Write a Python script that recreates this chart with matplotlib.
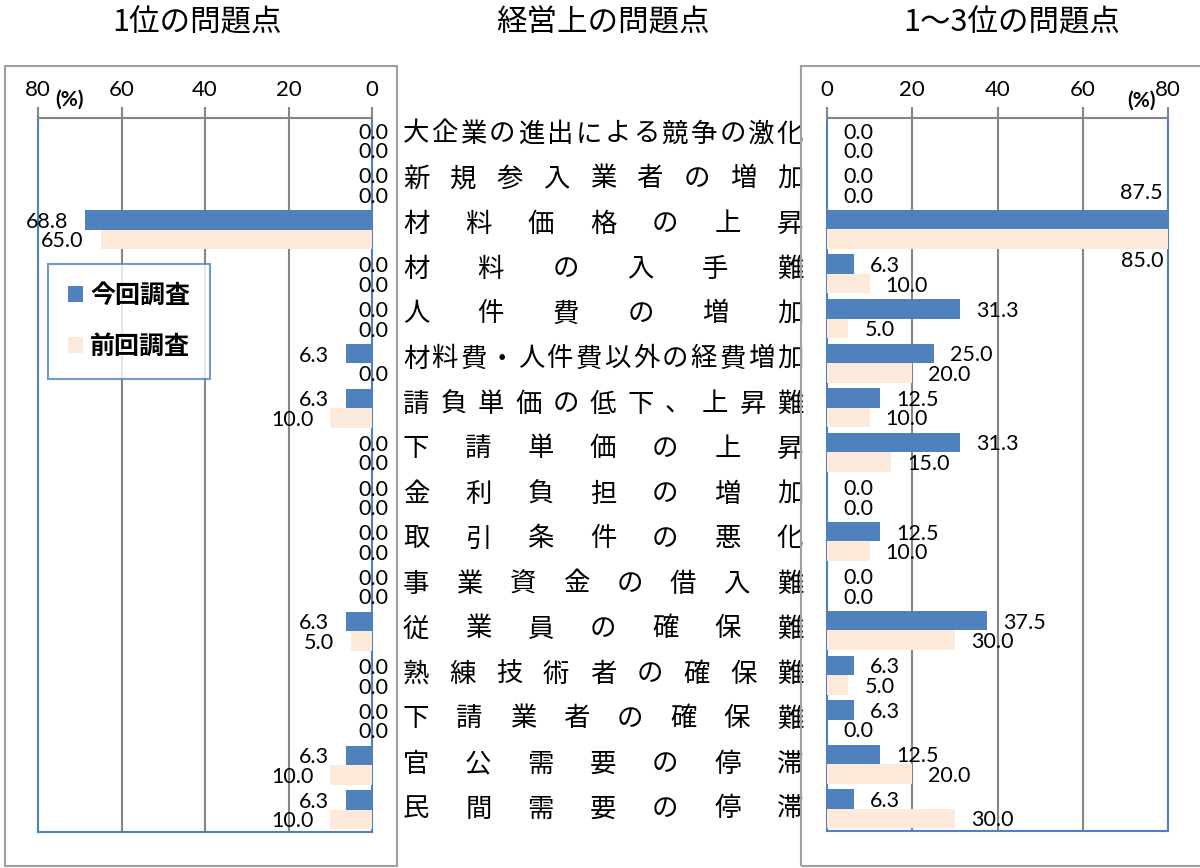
import numpy as np
import matplotlib
matplotlib.use('Agg')
import matplotlib.pyplot as plt
from matplotlib.patches import Rectangle

plt.rcParams['font.family'] = ['Lato', 'Noto Sans CJK JP', 'DejaVu Sans']

# --- データ ---
categories = [
    '大企業の進出による競争の激化', '新規参入業者の増加', '材料価格の上昇', '材料の入手難',
    '人件費の増加', '材料費・人件費以外の経費増加', '請負単価の低下、上昇難', '下請単価の上昇',
    '金利負担の増加', '取引条件の悪化', '事業資金の借入難', '従業員の確保難',
    '熟練技術者の確保難', '下請業者の確保難', '官公需要の停滞', '民間需要の停滞',
]
first_now = [0.0, 0.0, 68.8, 0.0, 0.0, 6.3, 6.3, 0.0, 0.0, 0.0, 0.0, 6.3, 0.0, 0.0, 6.3, 6.3]
first_prev = [0.0, 0.0, 65.0, 0.0, 0.0, 0.0, 10.0, 0.0, 0.0, 0.0, 0.0, 5.0, 0.0, 0.0, 10.0, 10.0]
top3_now = [0.0, 0.0, 87.5, 6.3, 31.3, 25.0, 12.5, 31.3, 0.0, 12.5, 0.0, 37.5, 6.3, 6.3, 12.5, 6.3]
top3_prev = [0.0, 0.0, 85.0, 10.0, 5.0, 20.0, 10.0, 15.0, 0.0, 10.0, 0.0, 30.0, 5.0, 0.0, 20.0, 30.0]
series_names = ['今回調査', '前回調査']
x_ticks = [0, 20, 40, 60, 80]
titles = ['1位の問題点', '経営上の問題点', '1～3位の問題点']

W, H = 1200, 868
BLUE = '#4f81bd'
PEACH = '#fde9d9'
GRID = '#868686'
BOX = '#a0a0a0'
JP = ['Noto Sans CJK JP', 'DejaVu Sans']
LABEL_FS = 15.5


def fx(px):
    return px / W


def fy(py):
    return 1 - py / H


fig = plt.figure(figsize=(W / 100, H / 100), dpi=100)

y = np.arange(len(categories))
bar_h = 0.437
off = 0.2185
xmax = 80


def setup(ax, reverse):
    if reverse:
        ax.set_xlim(xmax, 0)
    else:
        ax.set_xlim(0, xmax)
    ax.set_ylim(len(categories) - 0.5, -0.5)
    ax.set_xticks(x_ticks)
    ax.xaxis.tick_top()
    ax.tick_params(axis='x', direction='out', length=8, width=1.5, color=GRID,
                   labelsize=16, pad=5)
    ax.set_yticks([])
    ax.grid(axis='x', color=GRID, lw=1.5)
    ax.set_axisbelow(True)
    for s in ['left', 'right', 'bottom']:
        ax.spines[s].set_color(BLUE)
        ax.spines[s].set_linewidth(1.5)
    ax.spines['top'].set_color(GRID)
    ax.spines['top'].set_linewidth(1.5)


# 左: 1位の問題点
ax1 = fig.add_axes([fx(38), fy(832), fx(372) - fx(38), fy(118) - fy(832)])
setup(ax1, True)
b1 = ax1.barh(y - off, first_now, height=bar_h, color=BLUE, zorder=3)
b2 = ax1.barh(y + off, first_prev, height=bar_h, color=PEACH, zorder=3)
for ys, vals in [(y - off, first_now), (y + off, first_prev)]:
    for yi, v in zip(ys, vals):
        dx = 16 if v == 0 else -17
        ax1.annotate(f'{v:.1f}', (v, yi), xytext=(dx, -2), textcoords='offset pixels',
                     ha='right', va='center', fontsize=LABEL_FS)

# 右: 1～3位の問題点
ax2 = fig.add_axes([fx(827), fy(831), fx(1168) - fx(827), fy(118) - fy(831)])
setup(ax2, False)
ax2.barh(y - off, top3_now, height=bar_h, color=BLUE, zorder=3)
ax2.barh(y + off, top3_prev, height=bar_h, color=PEACH, zorder=3)
for ys, vals, dy_over in [(y - off, top3_now, 27), (y + off, top3_prev, -22)]:
    for yi, v in zip(ys, vals):
        if v > xmax:
            ax2.annotate(f'{v:.1f}', (xmax, yi), xytext=(-5, dy_over), textcoords='offset pixels',
                         ha='right', va='center', fontsize=LABEL_FS)
        else:
            ax2.annotate(f'{v:.1f}', (v, yi), xytext=(16, -2), textcoords='offset pixels',
                         ha='left', va='center', fontsize=LABEL_FS)

# (%) 表記
fig.text(fx(70), fy(100), '(%)', ha='center', va='center', fontsize=15, fontweight='bold')
fig.text(fx(1142), fy(101), '(%)', ha='center', va='center', fontsize=15, fontweight='bold')

# 凡例
leg = fig.legend([b1, b2], series_names, loc='upper left',
                 bbox_to_anchor=(fx(48), fy(264)), bbox_transform=fig.transFigure,
                 borderaxespad=0, frameon=True, fancybox=False, edgecolor=BLUE,
                 prop={'family': JP, 'weight': 'bold', 'size': 18},
                 handlelength=0.6, handleheight=0.6, labelspacing=1.1,
                 borderpad=0.78, handletextpad=0.3)
leg.get_frame().set_linewidth(1.5)

# 中央の項目名(均等割付)
for i, cat in enumerate(categories):
    ypx = 134 + 45 * i
    xs = np.linspace(416, 790, len(cat))
    for ch, xpx in zip(cat, xs):
        fig.text(fx(xpx), fy(ypx), ch, ha='center', va='center', fontsize=19,
                 family=JP)

# タイトル
for t, xpx in zip(titles, [197, 603, 1012]):
    fig.text(fx(xpx), fy(23), t, ha='center', va='center', fontsize=22, family=JP)

# 外枠
fig.patches.append(Rectangle((fx(5), fy(866)), fx(397) - fx(5), fy(66) - fy(866),
                             transform=fig.transFigure, fill=False, ec=BOX, lw=1.5, zorder=5))
fig.patches.append(Rectangle((fx(801), fy(866)), fx(1210) - fx(801), fy(66) - fy(866),
                             transform=fig.transFigure, fill=False, ec=BOX, lw=1.5, zorder=5))

fig.savefig('out.png', dpi=100, facecolor='white')
